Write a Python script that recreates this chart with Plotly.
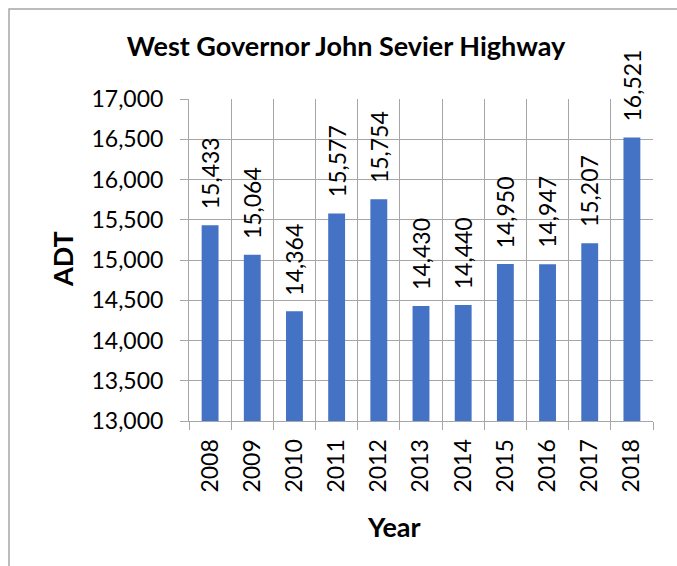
import plotly.graph_objects as go

# Average daily traffic by year
years = ["2008", "2009", "2010", "2011", "2012", "2013", "2014", "2015", "2016", "2017", "2018"]
adt = [15433, 15064, 14364, 15577, 15754, 14430, 14440, 14950, 14947, 15207, 16521]
y_ticks = [13000, 13500, 14000, 14500, 15000, 15500, 16000, 16500, 17000]

FONT = "Lato"
GRID = "#a6a6a6"
BAR = "#4472c4"

W, H = 677, 566
ML, MR, MT, MB = 189, 24, 99, 145
PW, PH = W - ML - MR, H - MT - MB


def px_x(p):
    return (p - ML) / PW


def px_y(p):
    return (H - MB - p) / PH


fig = go.Figure(
    go.Bar(
        x=years,
        y=adt,
        marker=dict(color=BAR, line=dict(width=0)),
        width=0.4,
        hoverinfo="x+y",
    )
)

# value labels above each bar (category index positions on the x axis)
for i, v in enumerate(adt):
    fig.add_annotation(
        x=i, y=v, xref="x", yref="y",
        text=f"{v:,}", textangle=-90, showarrow=False,
        xanchor="center", yanchor="bottom", yshift=14,
        font=dict(family=FONT, size=23, color="#000000"),
    )

# axis titles
fig.add_annotation(
    x=px_x(62), y=px_y(259), xref="paper", yref="paper",
    text="<b>ADT</b>", textangle=-90, showarrow=False,
    xanchor="center", yanchor="middle",
    font=dict(family=FONT, size=27, color="#000000"),
)
fig.add_annotation(
    x=px_x(394), y=px_y(526), xref="paper", yref="paper",
    text="<b>Year</b>", showarrow=False,
    xanchor="center", yanchor="middle",
    font=dict(family=FONT, size=27, color="#000000"),
)

# chart frame
fig.add_shape(
    type="rect", xref="paper", yref="paper",
    x0=px_x(9), x1=px_x(W + 20), y0=px_y(H + 20), y1=px_y(9),
    line=dict(color="#a6a6a6", width=1.5), fillcolor="rgba(0,0,0,0)",
    layer="below",
)

fig.update_layout(
    width=W, height=H,
    margin=dict(l=ML, r=MR, t=MT, b=MB),
    paper_bgcolor="white", plot_bgcolor="white",
    showlegend=False,
    title=dict(
        text="<b>West Governor John Sevier Highway</b>",
        x=px_x(346), xref="paper", xanchor="center",
        y=1 - 47 / H, yref="container", yanchor="middle",
        font=dict(family=FONT, size=27, color="#000000"),
    ),
    xaxis=dict(
        type="category",
        tickson="boundaries",
        ticks="outside", ticklen=8, tickcolor=GRID, tickwidth=1,
        tickangle=-90,
        tickfont=dict(family=FONT, size=23, color="#000000"),
        ticklabelstandoff=8,
        showgrid=True, gridcolor=GRID, gridwidth=1,
        showline=True, linecolor=GRID, linewidth=1, mirror=False,
        range=[-0.5, len(years) - 0.5],
        fixedrange=True,
    ),
    yaxis=dict(
        range=[13000, 17000],
        tickvals=y_ticks,
        ticktext=[f"{t:,}" for t in y_ticks],
        ticks="outside", ticklen=8, tickcolor=GRID, tickwidth=1,
        tickfont=dict(family=FONT, size=23, color="#000000"),
        ticklabelstandoff=12,
        showgrid=True, gridcolor=GRID, gridwidth=1,
        showline=True, linecolor=GRID, linewidth=1,
        zeroline=False,
        fixedrange=True,
    ),
)

fig.write_html("out.html")
